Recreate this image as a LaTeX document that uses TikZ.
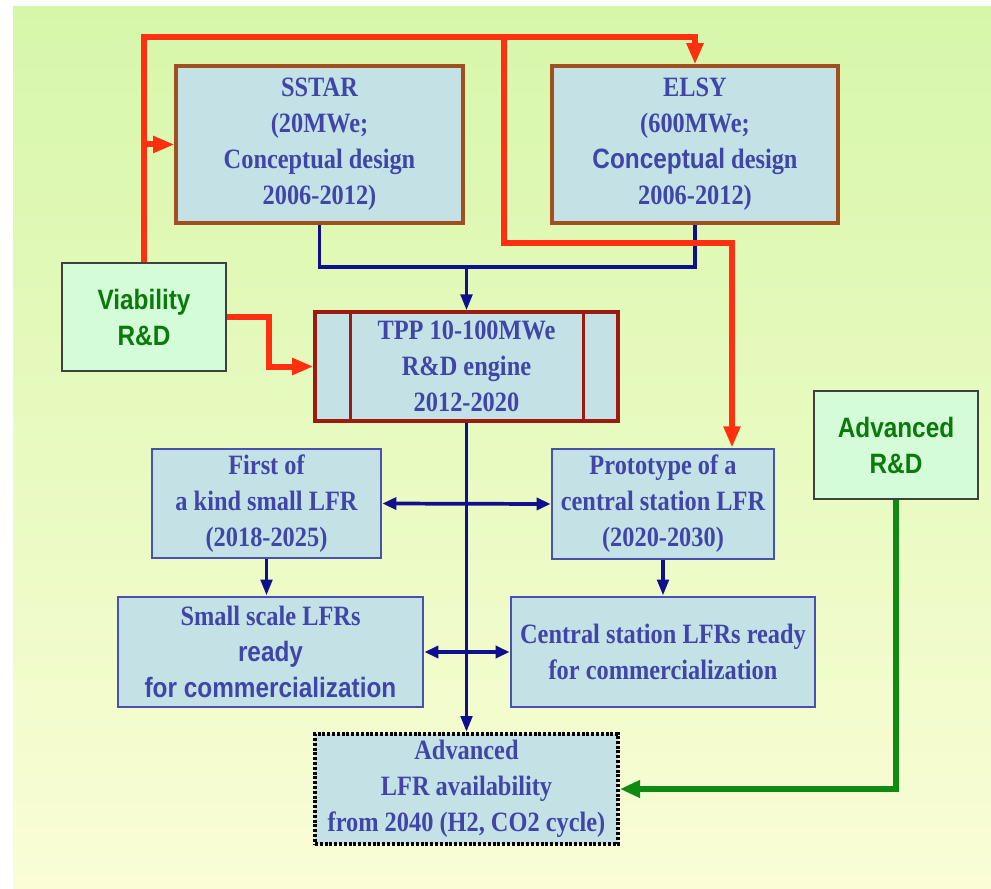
\documentclass[tikz,border=0pt]{standalone}
\usepackage{fontspec}
\setmainfont{Liberation Serif}[FakeStretch=0.87]
\newfontfamily\ars{Liberation Sans}[FakeStretch=0.87]
\usetikzlibrary{arrows.meta,calc}
\definecolor{bgtop}{HTML}{D6F7AA}
\definecolor{bgbot}{HTML}{FAFDD6}
\definecolor{boxfill}{HTML}{C4E2E6}
\definecolor{txtblue}{HTML}{4046A8}
\definecolor{brownb}{HTML}{A0501E}
\definecolor{tppb}{HTML}{9A1C10}
\definecolor{blueb}{HTML}{4A50B0}
\definecolor{navy}{HTML}{10108C}
\definecolor{redl}{HTML}{FF3010}
\definecolor{greenl}{HTML}{108A10}
\definecolor{greentxt}{HTML}{0A7A0A}
\definecolor{greenfill}{HTML}{D4FCD8}
\begin{document}
\begin{tikzpicture}[x=0.75pt,y=-0.75pt,
  sz/.style 2 args={minimum width=#1*0.75pt, minimum height=#2*0.75pt, inner sep=0pt},
  txt/.style={align=center, font=\fontsize{21}{27}\selectfont\bfseries},
  bluebox/.style={txt, fill=boxfill, draw=blueb, line width=2.1pt, text=txtblue},
  brownbox/.style={txt, fill=boxfill, draw=brownb, line width=2.3pt, text=txtblue},
  tppbox/.style={txt, fill=boxfill, draw=tppb, line width=2.3pt, text=txtblue},
  dotbox/.style={txt, fill=boxfill, draw=black, line width=3pt, dash pattern=on 2.2pt off 1.4pt, text=txtblue},
  greenbox/.style={txt, fill=greenfill, draw=black!75, line width=1.1pt, text=greentxt, font=\fontsize{21}{27}\selectfont\bfseries\ars},
  redline/.style={draw=redl, line width=4.5pt},
  redarrow/.style={redline, -{Triangle[length=16pt,width=12pt]}},
  navyline/.style={draw=navy, line width=2.8pt},
  navyarrow/.style={navyline, -{Triangle[length=12pt,width=8.5pt]}},
  navydbl/.style={navyline, {Triangle[length=10.5pt,width=9pt]}-{Triangle[length=10.5pt,width=9pt]}},
  greenarrow/.style={draw=greenl, line width=4.2pt, -{Triangle[length=15pt,width=12.5pt]}}
]
\useasboundingbox (0,0) rectangle (991,888);
\fill[white] (0,0) rectangle (991,888);
\shade[top color=bgtop, bottom color=bgbot] (13,7) rectangle (991,888);

% boxes
\node[brownbox, sz={287}{157}] (sstar) at (319.5,144.5) {SSTAR\\(20MWe;\\Conceptual design\\2006-2012)};
\node[brownbox, sz={286}{157}] (elsy) at (695,144.5) {ELSY\\(600MWe;\\{\ars Conceptual} design\\2006-2012)};
\node[greenbox, sz={164}{108}] (via) at (144,317) {Viability\\R\&D};
\node[tppbox, sz={303}{109}] (tpp) at (466.5,366.5) {TPP 10-100MWe\\R\&D engine\\2012-2020};
\draw[draw=tppb, line width=2.3pt] ($(tpp.north west)+(37,0)$) -- ($(tpp.south west)+(37,0)$)
  ($(tpp.north east)+(-36,0)$) -- ($(tpp.south east)+(-36,0)$);
\node[bluebox, sz={229}{109}] (first) at (266.5,503.5) {First of\\a kind small LFR\\(2018-2025)};
\node[bluebox, sz={222}{110}] (proto) at (663,504) {Prototype of a\\central station LFR\\(2020-2030)};
\node[bluebox, sz={305}{110}] (small) at (270.5,652) {Small scale LFRs\\{\ars ready}\\{\ars for commercialization}};
\node[bluebox, sz={304}{110}] (central) at (663,652) {Central station LFRs ready\\for commercialization};
\node[dotbox, sz={303}{110}] (adv) at (466.5,789) {Advanced\\LFR availability\\from 2040 (H2, CO2 cycle)};
\node[greenbox, sz={164}{108}] (advrd) at (896,445) {Advanced\\R\&D};

% coordinates for bends
\coordinate (rl) at (144,37);
\coordinate (rt) at (695,37);
\coordinate (rm) at (504,37);
\coordinate (rm2) at (504,243);
\coordinate (rp) at (732,243);
\coordinate (rv) at (269,317);
\coordinate (bj) at (466.5,267);
\coordinate (bl) at (319.5,267);
\coordinate (br) at (695,267);

% navy connectors
\draw[navyline] (sstar.south) -- (bl) -- (br) -- (elsy.south);
\draw[navyarrow] (bj) -- (tpp.north);
\draw[navyarrow] (tpp.south) -- (adv.north);
\draw[navydbl] (first.east) -- (proto.west);
\draw[navydbl] (small.east) -- (central.west);
\draw[navyarrow] (first.south) -- (first.south |- small.north);
\draw[navyarrow] (proto.south) -- (central.north);

% red connectors
\draw[redarrow] (via.north) -- (rl) -- (rt) -- (elsy.north);
\draw[redarrow] (rl |- sstar.west) -- (sstar.west);
\draw[redarrow] (rm) -- (rm2) -- (rp) -- (proto.north -| rp);
\draw[redarrow] (via.east) -- (rv) -- (rv |- tpp.west) -- (tpp.west);

% green connector
\draw[greenarrow] (advrd.south) -- (advrd.south |- adv.east) -- (adv.east);
\end{tikzpicture}
\end{document}
